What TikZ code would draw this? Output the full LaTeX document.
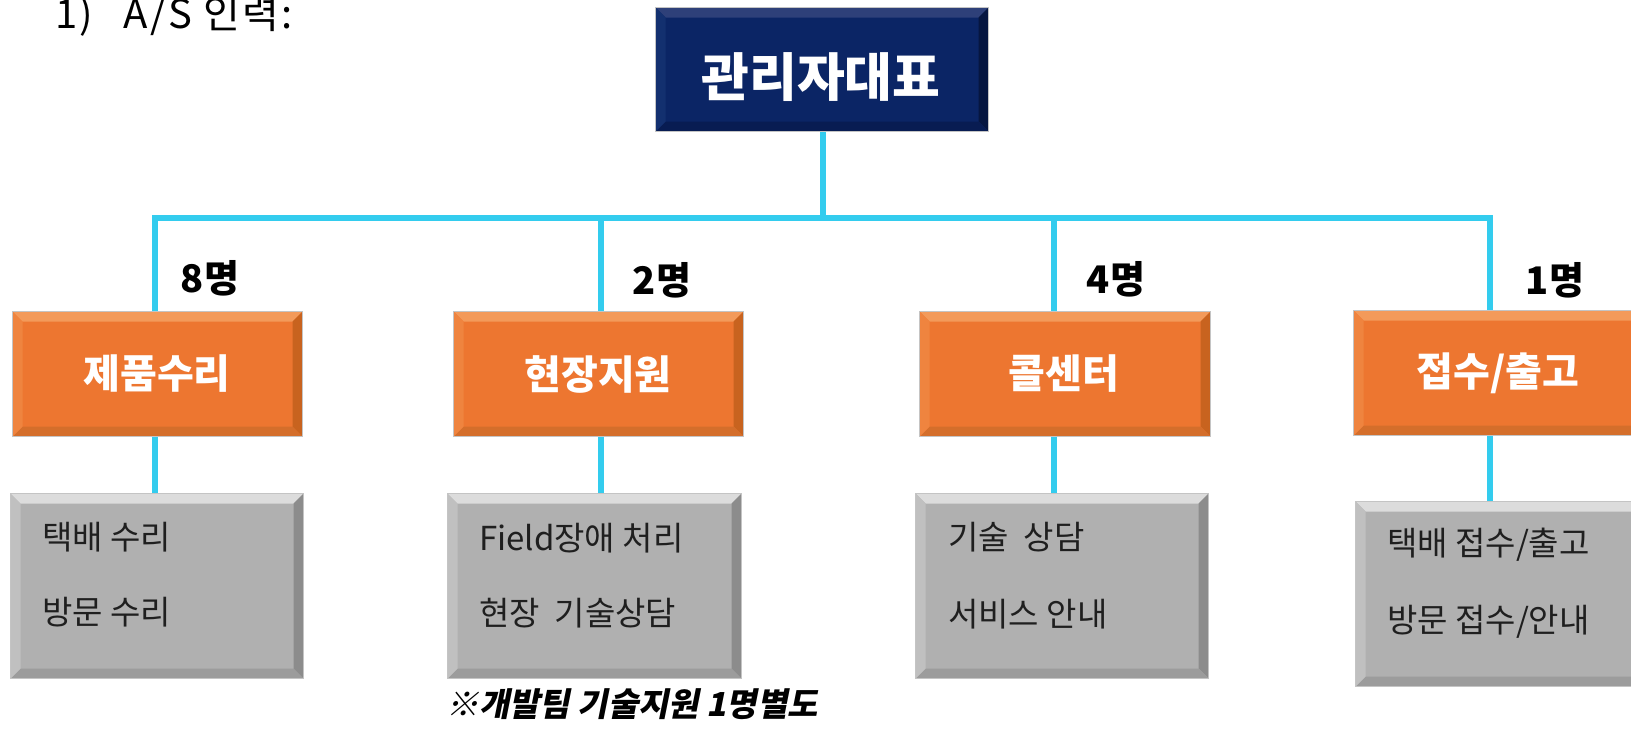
\documentclass[tikz,border=0pt]{standalone}
\usepackage{fontspec}
\setmainfont{Noto Sans CJK KR}
\newfontfamily\kslant[FakeSlant=0.2]{Noto Sans CJK KR}
\newfontfamily\kwide[LetterSpace=6]{Noto Sans CJK KR}
\definecolor{navy}{HTML}{0B2565}
\definecolor{navyT}{HTML}{2E4079}
\definecolor{navyR}{HTML}{061640}
\definecolor{navyB}{HTML}{081C52}
\definecolor{navyL}{HTML}{13306F}
\definecolor{orng}{HTML}{ED7630}
\definecolor{orngT}{HTML}{F39A5A}
\definecolor{orngR}{HTML}{C8631F}
\definecolor{orngB}{HTML}{D46E2B}
\definecolor{orngL}{HTML}{EF843F}
\definecolor{gry}{HTML}{B0B0B0}
\definecolor{gryT}{HTML}{DCDCDC}
\definecolor{gryR}{HTML}{8C8C8C}
\definecolor{gryB}{HTML}{9C9C9C}
\definecolor{gryL}{HTML}{C0C0C0}
\definecolor{edge}{HTML}{C4C4C4}
\definecolor{cyanline}{HTML}{33CCEE}
\newcommand\bevelfill[4]{%
  \coordinate (bNW) at (path picture bounding box.north west);
  \coordinate (bNE) at (path picture bounding box.north east);
  \coordinate (bSW) at (path picture bounding box.south west);
  \coordinate (bSE) at (path picture bounding box.south east);
  \fill[#1] (bNW) -- (bNE) -- ([shift={(-10,10)}]bNE) -- ([shift={(10,10)}]bNW) -- cycle;
  \fill[#2] (bNE) -- (bSE) -- ([shift={(-10,-10)}]bSE) -- ([shift={(-10,10)}]bNE) -- cycle;
  \fill[#3] (bSE) -- (bSW) -- ([shift={(10,-10)}]bSW) -- ([shift={(-10,-10)}]bSE) -- cycle;
  \fill[#4] (bSW) -- (bNW) -- ([shift={(10,10)}]bNW) -- ([shift={(10,-10)}]bSW) -- cycle;
}
\begin{document}
\begin{tikzpicture}[x=1pt,y=-1pt,
  boxbase/.style={rectangle, anchor=north west, inner sep=0pt, draw=edge, line width=1pt},
  navybox/.style={boxbase, fill=navy, path picture={\bevelfill{navyT}{navyR}{navyB}{navyL}}},
  orangebox/.style={boxbase, fill=orng, minimum height=125pt, path picture={\bevelfill{orngT}{orngR}{orngB}{orngL}}},
  graybox/.style={boxbase, fill=gry, minimum height=185pt, path picture={\bevelfill{gryT}{gryR}{gryB}{gryL}}},
  toptext/.style={text=white, font=\fontsize{52}{60}\selectfont\bfseries},
  headtext/.style={text=white, font=\fontsize{40}{48}\selectfont\bfseries},
  cnt/.style={text=black, font=\fontsize{38}{46}\selectfont\bfseries},
  item/.style={anchor=west, inner sep=0pt, text=black!88, font=\fontsize{33}{40}\selectfont},
  conn/.style={draw=cyanline, line width=6pt}
]
\useasboundingbox (0,0) rectangle (1631,731);
\fill[white] (0,0) rectangle (1631,731);
\clip (0,0) rectangle (1631,731);

\node[anchor=base west, inner sep=0pt, font=\fontsize{40}{48}\selectfont\kwide] (title) at (55,28) {1)\hspace{30pt}A/S 인력:};

\node[navybox, minimum width=333pt, minimum height=124pt] (top) at (655,7) {};
\node[toptext] (toptxt) at (821,77) {관리자대표};

\node[orangebox, minimum width=290pt] (o1) at (12,311) {};
\node[orangebox, minimum width=290pt] (o2) at (453,311) {};
\node[orangebox, minimum width=291pt] (o3) at (919,311) {};
\node[orangebox, minimum width=290pt] (o4) at (1353,310) {};
\node[headtext] (o1t) at (157,374) {제품수리};
\node[headtext] (o2t) at (598,374) {현장지원};
\node[headtext] (o3t) at (1064,374) {콜센터};
\node[headtext] (o4t) at (1498,373) {접수/출고};

\node[graybox, minimum width=293pt] (g1) at (10,493) {};
\node[graybox, minimum width=294pt] (g2) at (447,493) {};
\node[graybox, minimum width=293pt] (g3) at (915,493) {};
\node[graybox, minimum width=290pt] (g4) at (1355,501) {};

\node[item] (g1a) at (42,537) {택배 수리};
\node[item] (g1b) at (42,612) {방문 수리};
\node[item] (g2a) at (479,538) {Field장애 처리};
\node[item] (g2b) at (479,613) {현장~~기술상담};
\node[item] (g3a) at (948,537) {기술~~상담};
\node[item] (g3b) at (948,614) {서비스 안내};
\node[item] (g4a) at (1387,545) {택배 접수/출고};
\node[item] (g4b) at (1387,622) {방문 접수/안내};

\node[cnt] (n1) at (210,278) {8명};
\node[cnt] (n2) at (662,280) {2명};
\node[cnt] (n3) at (1116,279) {4명};
\node[cnt] (n4) at (1555,280) {1명};

\coordinate (b0) at (823,218);
\coordinate (b1) at (155,218);
\coordinate (b2) at (601,218);
\coordinate (b3) at (1054,218);
\coordinate (b4) at (1490,218);

\draw[conn] (b0 |- top.south) -- (b0);
\draw[conn] (b1 |- o1.north) -- (b1) -- (b4) -- (b4 |- o4.north);
\draw[conn] (b2) -- (b2 |- o2.north);
\draw[conn] (b3) -- (b3 |- o3.north);
\draw[conn] (b1 |- o1.south) -- (b1 |- g1.north);
\draw[conn] (b2 |- o2.south) -- (b2 |- g2.north);
\draw[conn] (b3 |- o3.south) -- (b3 |- g3.north);
\draw[conn] (b4 |- o4.south) -- (b4 |- g4.north);

\node[font=\fontsize{33}{40}\selectfont\kslant\bfseries, text=black] (note) at (632,704) {※개발팀 기술지원 1명별도};
\end{tikzpicture}
\end{document}
